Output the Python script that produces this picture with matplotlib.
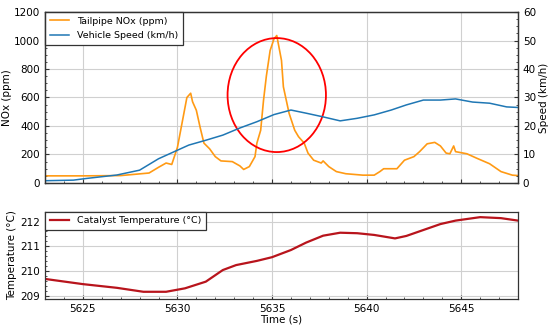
import matplotlib
matplotlib.use("Agg")
import matplotlib.pyplot as plt
from matplotlib.patches import Ellipse
from matplotlib.ticker import MultipleLocator, AutoMinorLocator
import numpy as np

# Tailpipe NOx (ppm)
nox_t = [5623.0, 5625.0, 5627.0, 5628.5, 5629.0, 5629.4, 5629.7, 5630.0, 5630.3, 5630.5, 5630.7,
         5630.8, 5631.0, 5631.2, 5631.4, 5631.7, 5632.0, 5632.3, 5632.9, 5633.3, 5633.5, 5633.8,
         5634.1, 5634.2, 5634.4, 5634.55, 5634.7, 5634.9, 5635.1, 5635.25, 5635.5, 5635.6,
         5635.9, 5636.2, 5636.4, 5636.7, 5636.9, 5637.2, 5637.6, 5637.7, 5638.0, 5638.4,
         5638.9, 5639.8, 5640.4, 5640.7, 5640.9, 5641.6, 5642.0, 5642.5, 5642.8, 5643.2,
         5643.6, 5643.9, 5644.2, 5644.4, 5644.6, 5644.7, 5645.3, 5645.8, 5646.5, 5647.1,
         5647.7, 5648.0]
nox_v = [50, 50, 52, 70, 110, 140, 130, 250, 460, 600, 630,
         570, 510, 390, 280, 240, 185, 155, 150, 120, 95, 115,
         185, 280, 370, 580, 750, 930, 1010, 1035, 860, 675,
         490, 370, 325, 280, 210, 160, 140, 155, 115, 80,
         65, 55, 55, 80, 100, 100, 160, 185, 220, 275,
         285, 260, 210, 205, 260, 220, 205, 175, 135, 80,
         55, 52]

# Vehicle speed (km/h)
spd_t = [5623.0, 5624.5, 5625.2, 5626.8, 5628.0, 5629.0, 5630.0, 5630.6, 5631.5, 5632.4,
         5633.3, 5634.2, 5635.1, 5636.0, 5636.8, 5637.7, 5638.6, 5639.5, 5640.4, 5641.3,
         5642.1, 5643.0, 5643.9, 5644.7, 5645.6, 5646.5, 5647.4, 5648.0]
spd_v = [0.8, 1.0, 1.6, 2.8, 4.5, 8.5, 11.5, 13.3, 15.0, 16.8,
         19.3, 21.5, 24.0, 25.6, 24.5, 23.2, 21.8, 22.7, 23.9, 25.6,
         27.4, 29.1, 29.1, 29.5, 28.4, 28.0, 26.7, 26.5]

# Catalyst temperature (°C)
tmp_t = [5623.0, 5625.0, 5626.8, 5628.2, 5629.4, 5630.4, 5631.5, 5632.4, 5633.1, 5634.2,
         5635.0, 5636.0, 5636.8, 5637.7, 5638.6, 5639.5, 5640.4, 5641.5, 5642.1, 5643.0,
         5643.9, 5644.7, 5646.0, 5647.1, 5648.0]
tmp_v = [209.68, 209.47, 209.32, 209.16, 209.16, 209.30, 209.57, 210.04, 210.24, 210.41,
         210.56, 210.85, 211.15, 211.43, 211.55, 211.53, 211.46, 211.32, 211.42, 211.66,
         211.90, 212.04, 212.18, 212.14, 212.04]

c_nox = '#ff9a14'
c_spd = '#1f77b4'
c_tmp = '#b8141c'
fs = 7.5
lfs = 6.8

plt.rcParams['font.family'] = ['DejaVu Sans']
fig = plt.figure(figsize=(5.5, 3.29), dpi=100)
ax1 = fig.add_axes([0.0818, 0.4438, 0.860, 0.5197])
ax2 = ax1.twinx()
ax3 = fig.add_axes([0.0818, 0.0921, 0.860, 0.2644])

l1, = ax1.plot(nox_t, nox_v, color=c_nox, lw=1.2, label='Tailpipe NOx (ppm)')
l2, = ax2.plot(spd_t, spd_v, color=c_spd, lw=1.1, label='Vehicle Speed (km/h)')
ax1.set_xlim(5623, 5648)
ax1.set_ylim(0, 1200)
ax2.set_ylim(0, 60)
ax1.set_ylabel('NOx (ppm)', fontsize=fs, labelpad=1)
ax2.set_ylabel('Speed (km/h)', fontsize=fs, labelpad=2)
ax1.yaxis.set_major_locator(MultipleLocator(200))
ax1.yaxis.set_minor_locator(AutoMinorLocator(4))
ax2.yaxis.set_major_locator(MultipleLocator(10))
ax2.yaxis.set_minor_locator(AutoMinorLocator(4))
ax1.xaxis.set_major_locator(MultipleLocator(5))
ax1.xaxis.set_minor_locator(MultipleLocator(1))
ax1.tick_params(axis='x', labelbottom=False)
ax1.grid(True, which='major', color='#d0d0d0', lw=0.8)
ax1.set_axisbelow(True)
ax1.add_patch(Ellipse((5635.25, 617), 5.2, 800, fill=False, edgecolor='red', lw=1.3, zorder=5))

ax3.plot(tmp_t, tmp_v, color=c_tmp, lw=1.6, label='Catalyst Temperature (°C)')
ax3.set_xlim(5623, 5648)
ax3.set_ylim(208.88, 212.4)
ax3.yaxis.set_major_locator(MultipleLocator(1))
ax3.yaxis.set_minor_locator(AutoMinorLocator(5))
ax3.xaxis.set_major_locator(MultipleLocator(5))
ax3.xaxis.set_minor_locator(MultipleLocator(1))
ax3.set_xlabel('Time (s)', fontsize=fs, labelpad=1)
ax3.set_ylabel('Temperature (°C)', fontsize=fs, labelpad=2)
ax3.grid(True, which='major', color='#d0d0d0', lw=0.8)

for ax in (ax1, ax2, ax3):
    ax.tick_params(which='both', direction='in', labelsize=fs, color='#333333')
    ax.tick_params(which='major', length=3)
    ax.tick_params(which='minor', length=1.5)
    for s in ax.spines.values():
        s.set_color('#333333')
        s.set_linewidth(0.9)

leg = ax1.legend([l1, l2], [l1.get_label(), l2.get_label()], loc='upper left', fontsize=lfs,
                 fancybox=False, edgecolor='#333333', framealpha=1, borderaxespad=0.0,
                 handlelength=2.0, handletextpad=0.9, labelspacing=0.55, borderpad=0.5)
leg.get_frame().set_linewidth(0.9)
leg3 = ax3.legend(loc='upper left', fontsize=lfs, fancybox=False, edgecolor='#333333',
                  framealpha=1, borderaxespad=0.0, handlelength=2.0, handletextpad=0.9,
                  borderpad=0.5)
leg3.get_frame().set_linewidth(0.9)

fig.savefig('out.png', dpi=100)
